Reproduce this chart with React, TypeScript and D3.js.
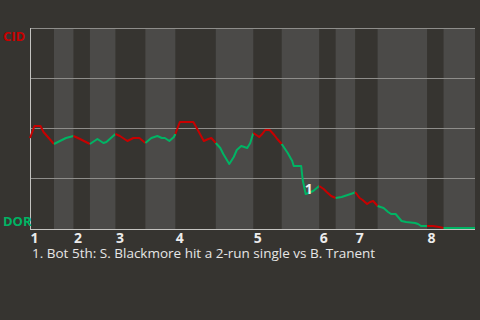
import React from "react";
import * as d3 from "d3";

// Half-inning boundaries (pitch count at start of each half), last = end of game
const halfStarts = [0, 16, 29, 40, 57, 77, 97, 124, 149, 168, 193, 204, 217, 232, 265, 276, 297];
const inningLabels = ["1", "2", "3", "4", "5", "6", "7", "8"];
const awayTeam = "CID";
const homeTeam = "DOR";

// Win probability of CID by pitch number
const pitchNo = [
  0, 3, 7, 9, 16,
  20, 24, 29,
  32, 40,
  45, 49, 51, 57,
  60, 65, 69, 73, 77,
  81, 85, 88, 90, 93, 96, 97,
  98, 100, 109, 112, 116, 119, 121, 124,
  127, 129, 133, 136, 138, 141, 143, 145, 147, 149,
  150, 153, 155, 157, 160, 163, 165, 168,
  172, 175, 176, 181, 182, 183, 184, 186, 189, 193,
  196, 198, 201, 204,
  208, 212, 216, 217,
  220, 222, 225, 227, 229, 232,
  236, 239, 241, 244, 248, 251, 257, 259, 261, 265,
  269, 273, 276,
  280, 297,
];
const winProb = [
  0.45, 0.51, 0.51, 0.48, 0.42,
  0.435, 0.45, 0.46,
  0.45, 0.42,
  0.445, 0.425, 0.43, 0.47,
  0.46, 0.435, 0.45, 0.45, 0.425,
  0.45, 0.46, 0.45, 0.45, 0.435, 0.455, 0.47,
  0.49, 0.53, 0.53, 0.49, 0.435, 0.445, 0.45, 0.425,
  0.4, 0.37, 0.32, 0.355, 0.39, 0.41, 0.405, 0.4, 0.425, 0.475,
  0.47, 0.455, 0.47, 0.49, 0.49, 0.465, 0.445, 0.42,
  0.375, 0.335, 0.31, 0.31, 0.24, 0.205, 0.17, 0.175, 0.185, 0.21,
  0.195, 0.18, 0.16, 0.15,
  0.155, 0.165, 0.175, 0.18,
  0.15, 0.14, 0.12, 0.13, 0.135, 0.11,
  0.1, 0.08, 0.07, 0.07, 0.035, 0.03, 0.025, 0.02, 0.01, 0.01,
  0.01, 0.005, 0.0,
  0.0, 0.0,
];
const gridValues = [0.25, 0.5, 0.75, 1];
const annotationPitch = [184];
const annotationText = ["1"];
const caption = "1. Bot 5th: S. Blackmore hit a 2-run single vs B. Tranent";

const W = 480, H = 320;
const m = { left: 30, right: 5, top: 28, bottom: 92 };
const BG = "#363430";
const BAND = "#4b4a48";
const RED = "#c80000";
const GREEN = "#00b464";
const FONT = "'Open Sans', 'Noto Sans', sans-serif";

export default function App() {
  const x = d3.scaleLinear().domain([0, halfStarts[halfStarts.length - 1]]).range([m.left, W - m.right]);
  const y = d3.scaleLinear().domain([0, 1]).range([H - m.bottom - 0, m.top]);
  const pts = pitchNo.map((p, i) => [p, winProb[i]] as [number, number]);
  const line = d3.line<[number, number]>().x(d => x(d[0])).y(d => y(d[1]));

  const halves = halfStarts.slice(0, -1).map((s, i) => ({ s, e: halfStarts[i + 1], top: i % 2 === 0 }));
  const x0 = x(0), x1 = x(halfStarts[halfStarts.length - 1]);

  return (
    <div style={{ position: "fixed", left: 0, top: 0, width: W, height: H, background: BG }}>
      <svg width={W} height={H} style={{ display: "block" }}>
        <rect width={W} height={H} fill={BG} />
        {halves.map((h, i) => !h.top && (
          <rect key={i} x={x(h.s)} y={y(1)} width={x(h.e) - x(h.s)} height={y(0) - y(1) + 1} fill={BAND} />
        ))}
        {gridValues.map(g => (
          <line key={g} x1={x0} x2={x1} y1={Math.round(y(g)) + 0.5} y2={Math.round(y(g)) + 0.5} stroke="#8e8d8a" strokeWidth={1} />
        ))}
        <line x1={x0 + 0.5} x2={x0 + 0.5} y1={y(1)} y2={y(0) + 1.5} stroke="#c4c3c0" strokeWidth={1} />
        <line x1={x0} x2={x1} y1={y(0) + 1.5} y2={y(0) + 1.5} stroke="#c4c3c0" strokeWidth={1} />
        {halves.map((h, i) => (
          <path key={i} d={line(pts.filter(p => p[0] >= h.s && p[0] <= h.e)) || ""} fill="none"
            stroke={h.top ? RED : GREEN} strokeWidth={2} strokeLinejoin="round" />
        ))}
        {annotationPitch.map((a, i) => {
          const j = pitchNo.indexOf(a);
          return (
            <text key={i} x={x(a) + 3} y={y(winProb[j]) - 0.5} textAnchor="middle" fill="#f0f0f0"
              fontFamily={FONT} fontWeight="bold" fontSize={14}>{annotationText[i]}</text>
          );
        })}
        <text x={3} y={40.5} fill={RED} fontFamily={FONT} fontWeight="bold" fontSize={13}>{awayTeam}</text>
        <text x={3} y={226} fill={GREEN} fontFamily={FONT} fontWeight="bold" fontSize={13}>{homeTeam}</text>
        {inningLabels.map((l, i) => (
          <text key={l} x={x(halfStarts[i * 2]) + 0.5} y={243.3} fill="#ececec" fontFamily={FONT}
            fontWeight="bold" fontSize={14}>{l}</text>
        ))}
        <text x={32} y={258.3} fill="#e6e6e6" fontFamily={FONT} fontSize={13.5}>{caption}</text>
      </svg>
    </div>
  );
}
